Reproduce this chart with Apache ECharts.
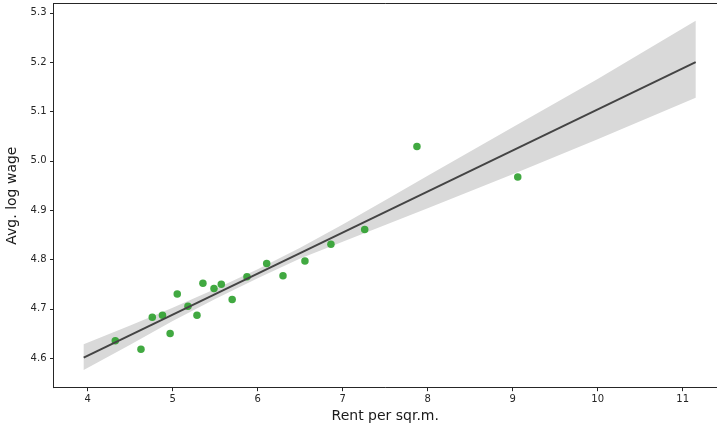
<!DOCTYPE html>
<html>
<head>
<meta charset="utf-8">
<script src="https://cdn.jsdelivr.net/npm/echarts@6/dist/echarts.min.js"></script>
<style>html,body{margin:0;padding:0;background:#fff}#c{width:717px;height:430px}</style>
</head>
<body>
<div id="c"></div>
<script>
const rent = [4.325, 4.627, 4.76, 4.88, 4.97, 5.054, 5.18, 5.286, 5.356, 5.486, 5.572, 5.70, 5.874, 6.106, 6.298, 6.556, 6.862, 7.259, 7.874, 9.06];
const logWage = [4.635, 4.618, 4.683, 4.687, 4.650, 4.730, 4.705, 4.687, 4.752, 4.741, 4.750, 4.719, 4.765, 4.792, 4.767, 4.797, 4.831, 4.861, 5.029, 4.967];
const fitX = [3.953, 11.153];
const fitY = [4.601, 5.200];
const bandX = [3.953, 4.5, 5, 5.5, 6, 6.5, 7, 7.5, 8, 9, 10, 11.153];
const bandUpper = [4.628, 4.666, 4.702, 4.740, 4.780, 4.824, 4.871, 4.920, 4.970, 5.068, 5.166, 5.284];
const bandLower = [4.576, 4.627, 4.675, 4.720, 4.762, 4.802, 4.836, 4.870, 4.904, 4.973, 5.044, 5.128];
const xTicks = [4, 5, 6, 7, 8, 9, 10, 11];
const yTicks = [4.6, 4.7, 4.8, 4.9, 5.0, 5.1, 5.2, 5.3];

const chart = echarts.init(document.getElementById('c'), null, {renderer: 'canvas'});
const font = 'DejaVu Sans';
const axisCol = '#262626';
const bandPts = bandX.map((x, i) => [x, bandUpper[i]]).concat(bandX.slice().reverse().map((x, i) => [x, bandLower[bandX.length - 1 - i]]));

chart.setOption({
  animation: false,
  textStyle: {fontFamily: font},
  grid: {left: 53.5, right: 0, top: 3.5, bottom: 42.3, containLabel: false, outerBoundsMode: 'none'},
  xAxis: [{
    type: 'value', min: 3.598, max: 11.404,
    name: 'Rent per sqr.m.', nameLocation: 'middle', nameGap: 20,
    nameTextStyle: {fontSize: 14, color: '#1a1a1a', fontFamily: font},
    axisLine: {show: true, lineStyle: {color: axisCol, width: 1}},
    axisTick: {show: true, length: 3.5, lineStyle: {color: axisCol}, customValues: xTicks},
    axisLabel: {fontSize: 10, color: '#262626', margin: 7, fontFamily: font, customValues: xTicks, formatter: v => String(v)},
    splitLine: {show: false}
  }, {
    type: 'value', position: 'top', min: 3.598, max: 11.404,
    axisLine: {show: true, lineStyle: {color: axisCol, width: 1}},
    axisTick: {show: false}, axisLabel: {show: false}, splitLine: {show: false}
  }],
  yAxis: {
    type: 'value', min: 4.540, max: 5.319,
    name: 'Avg. log wage', nameLocation: 'middle', nameGap: 23, nameRotate: 90,
    nameTextStyle: {fontSize: 14, color: '#1a1a1a', fontFamily: font},
    axisLine: {show: true, lineStyle: {color: axisCol, width: 1}},
    axisTick: {show: true, length: 3.5, lineStyle: {color: axisCol}, customValues: yTicks},
    axisLabel: {fontSize: 10, color: '#262626', margin: 7, fontFamily: font, customValues: yTicks, formatter: v => v.toFixed(1)},
    splitLine: {show: false}
  },
  series: [
    {
      type: 'custom',
      data: [0],
      silent: true,
      z: 1,
      renderItem: (params, api) => ({
        type: 'polygon',
        shape: {points: bandPts.map(p => api.coord(p))},
        style: {fill: '#d9d9d9'}
      })
    },
    {
      type: 'scatter',
      data: rent.map((x, i) => [x, logWage[i]]),
      symbol: 'circle', symbolSize: 7.5,
      itemStyle: {color: '#2ca02c', opacity: 0.9},
      z: 2
    },
    {
      type: 'line',
      data: fitX.map((x, i) => [x, fitY[i]]),
      showSymbol: false,
      lineStyle: {color: '#444444', width: 2},
      z: 3
    }
  ]
});
</script>
</body>
</html>
